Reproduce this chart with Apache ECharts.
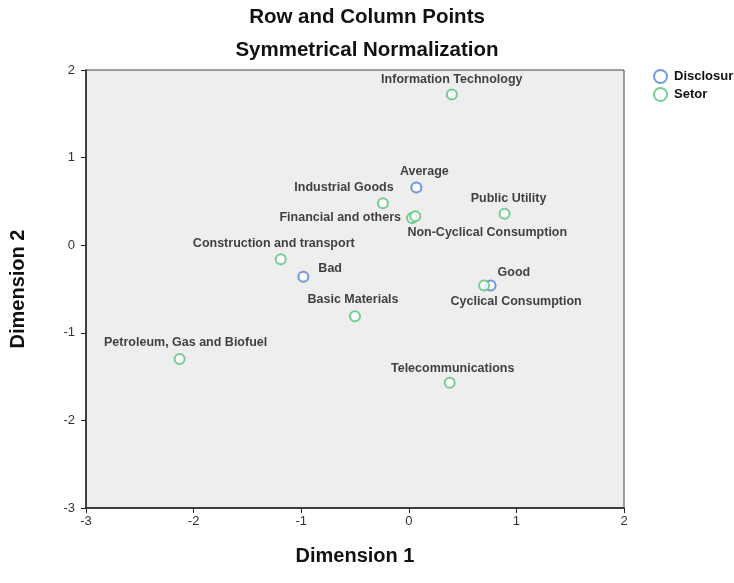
<!DOCTYPE html>
<html>
<head>
<meta charset="utf-8">
<script src="https://cdn.jsdelivr.net/npm/echarts@6/dist/echarts.min.js"></script>
<style>
  html, body { margin: 0; padding: 0; background: #fff; }
  #chart { width: 734px; height: 583px; }
</style>
</head>
<body>
<div id="chart"></div>
<script>
// row points (Disclosure)
const disclosureNames = ['Average', 'Bad', 'Good'];
const disclosureX = [0.07, -0.98, 0.76];
const disclosureY = [0.66, -0.36, -0.46];

// column points (Setor)
const setorNames = [
  'Information Technology', 'Industrial Goods', 'Financial and others',
  'Non-Cyclical Consumption', 'Public Utility', 'Construction and transport',
  'Basic Materials', 'Cyclical Consumption', 'Petroleum, Gas and Biofuel',
  'Telecommunications'
];
const setorX = [0.40, -0.24, 0.03, 0.06, 0.89, -1.19, -0.50, 0.70, -2.13, 0.38];
const setorY = [1.72, 0.48, 0.31, 0.33, 0.36, -0.16, -0.81, -0.46, -1.30, -1.57];

const xTicks = [-3, -2, -1, 0, 1, 2];
const yTicks = [-3, -2, -1, 0, 1, 2];

// where each label sits relative to its point
const labelPlace = {
  'Average': { position: 'top', offset: [8, 2] },
  'Bad': { position: 'right', offset: [4, -8] },
  'Good': { position: 'right', offset: [-4, -13] },
  'Industrial Goods': { position: 'top', offset: [-39, 2] },
  'Financial and others': { position: 'left', offset: [0, 0] },
  'Non-Cyclical Consumption': { position: 'bottom', offset: [72, -1] },
  'Public Utility': { position: 'top', offset: [4, 2] },
  'Construction and transport': { position: 'top', offset: [-7, 2] },
  'Basic Materials': { position: 'top', offset: [-2, 1] },
  'Cyclical Consumption': { position: 'bottom', offset: [32, -1] },
  'Petroleum, Gas and Biofuel': { position: 'top', offset: [6, 1] },
  'Telecommunications': { position: 'top', offset: [3, 3] },
  'Information Technology': { position: 'top', offset: [0, 3] }
};

function points(names, xs, ys) {
  return names.map((n, i) => ({
    name: n,
    value: [xs[i], ys[i]],
    label: Object.assign({ show: true, formatter: n }, labelPlace[n])
  }));
}

const FONT = 'Liberation Sans, Arial, sans-serif';

const labelStyle = {
  fontFamily: FONT,
  fontWeight: 'bold',
  fontSize: 12.5,
  color: '#111'
};

const chart = echarts.init(document.getElementById('chart'));
chart.setOption({
  animation: false,
  backgroundColor: '#fff',
  title: [
    {
      text: 'Row and Column Points',
      left: 'center', top: 2,
      textStyle: { fontFamily: FONT, fontWeight: 'bold', fontSize: 20.5, color: '#111' }
    },
    {
      text: 'Symmetrical Normalization',
      left: 'center', top: 35,
      textStyle: { fontFamily: FONT, fontWeight: 'bold', fontSize: 20.5, color: '#111' }
    }
  ],
  legend: {
    orient: 'vertical',
    left: 648, top: 64,
    itemWidth: 17, itemHeight: 13, itemGap: 3,
    icon: 'emptyCircle',
    textStyle: { fontFamily: FONT, fontWeight: 'bold', fontSize: 13, color: '#111' },
    data: ['Disclosur', 'Setor']
  },
  grid: {
    left: 84, top: 70, right: 110, bottom: 75,
    show: true,
    backgroundColor: '#eeeeee',
    borderColor: '#444',
    borderWidth: 1
  },
  xAxis: {
    type: 'value',
    min: xTicks[0], max: xTicks[xTicks.length - 1], interval: 1,
    name: 'Dimension 1',
    nameLocation: 'middle', nameGap: 38,
    nameTextStyle: { fontFamily: FONT, fontWeight: 'bold', fontSize: 20, color: '#111' },
    axisLine: { show: true, onZero: false, lineStyle: { color: '#222', width: 1.5 } },
    axisTick: { show: true, length: 5, lineStyle: { color: '#222' } },
    axisLabel: { fontFamily: FONT, fontSize: 13, color: '#333', margin: 7 },
    splitLine: { show: false }
  },
  yAxis: {
    type: 'value',
    min: yTicks[0], max: yTicks[yTicks.length - 1], interval: 1,
    name: 'Dimension 2',
    nameLocation: 'middle', nameGap: 58, nameRotate: 90,
    nameTextStyle: { fontFamily: FONT, fontWeight: 'bold', fontSize: 20, color: '#111' },
    axisLine: { show: true, onZero: false, lineStyle: { color: '#222', width: 1.5 } },
    axisTick: { show: true, length: 5, lineStyle: { color: '#222' } },
    axisLabel: { fontFamily: FONT, fontSize: 13, color: '#333', margin: 11 },
    splitLine: { show: false }
  },
  series: [
    {
      name: 'Disclosur',
      type: 'scatter',
      symbol: 'emptyCircle',
      symbolSize: 10,
      itemStyle: { color: '#4f80d6', borderColor: '#4f80d6', borderWidth: 1.8 },
      label: labelStyle,
      data: points(disclosureNames, disclosureX, disclosureY)
    },
    {
      name: 'Setor',
      type: 'scatter',
      symbol: 'emptyCircle',
      symbolSize: 10,
      itemStyle: { color: '#55c27a', borderColor: '#55c27a', borderWidth: 1.8 },
      label: labelStyle,
      data: points(setorNames, setorX, setorY)
    }
  ]
});
</script>
</body>
</html>
